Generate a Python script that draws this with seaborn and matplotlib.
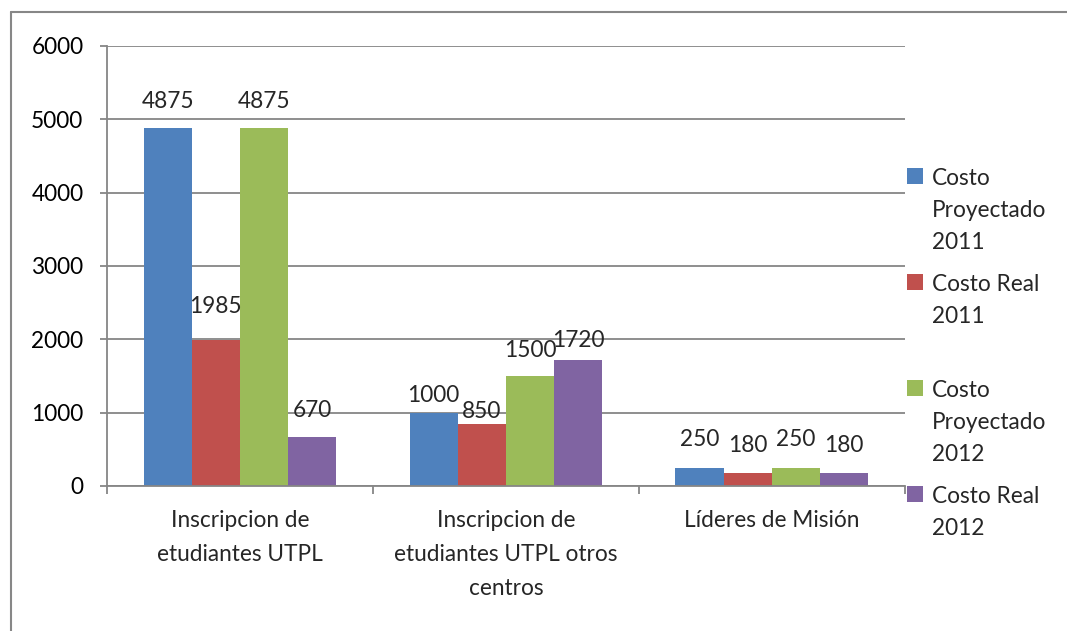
import matplotlib
matplotlib.use("Agg")
import matplotlib.pyplot as plt
from matplotlib.lines import Line2D
from matplotlib.patches import Patch
import seaborn as sns
import pandas as pd

# ---- data ----
categories = [
    "Inscripcion de\netudiantes UTPL",
    "Inscripcion de\netudiantes UTPL otros\ncentros",
    "Líderes de Misión",
]
series = ["Costo Proyectado 2011", "Costo Real 2011",
          "Costo Proyectado 2012", "Costo Real 2012"]
legend_labels = ["Costo\nProyectado\n2011", "Costo Real\n2011\n ",
                 "Costo\nProyectado\n2012", "Costo Real\n2012\n "]
proyectado_2011 = [4875, 1000, 250]
real_2011 = [1985, 850, 180]
proyectado_2012 = [4875, 1500, 250]
real_2012 = [670, 1720, 180]
values = [proyectado_2011, real_2011, proyectado_2012, real_2012]
yticks = [0, 1000, 2000, 3000, 4000, 5000, 6000]

colors = ["#4F81BD", "#C0504D", "#9BBB59", "#8064A2"]
# vertical label offsets (pixels above each bar top), per series
label_lift = [[27, 17, 28], [34, 12, 27], [27, 25, 28], [26, 19, 27]]

df = pd.DataFrame({
    "categoria": [c for s in series for c in categories],
    "serie": [s for s in series for _ in categories],
    "valor": [v for vals in values for v in vals],
})

FS = 16.3

sns.set_theme(style="white")
plt.rcParams["font.family"] = ["Lato", "DejaVu Sans"]
plt.rcParams["font.size"] = FS

fig = plt.figure(figsize=(10.67, 6.31), dpi=100)
ax = fig.add_axes([0.1003, 0.2298, 0.848 - 0.1003, 0.9271 - 0.2298])

sns.barplot(data=df, x="categoria", y="valor", hue="serie",
            palette=colors, width=0.725, dodge=True, ax=ax,
            saturation=1, legend=False, edgecolor="none", linewidth=0)

grid_color = "#868686"
ax.set_ylim(0, 6000)
ax.set_xlim(-0.5, 2.5)
ax.set_yticks(yticks)
ax.set_yticklabels([str(t) for t in yticks], fontsize=FS, color="black")
ax.yaxis.grid(True, color=grid_color, linewidth=1.3)
ax.set_axisbelow(True)
ax.set_xlabel("")
ax.set_ylabel("")

for side in ["top", "right"]:
    ax.spines[side].set_visible(False)
for side in ["left", "bottom"]:
    ax.spines[side].set_color(grid_color)
    ax.spines[side].set_linewidth(1.3)

ax.tick_params(axis="y", which="major", length=5, width=1.3,
               color=grid_color, pad=12, left=True)
ax.set_xticks(range(len(categories)))
ax.set_xticklabels(categories, fontsize=FS, linespacing=1.78)
ax.set_xticks([-0.5, 0.5, 1.5, 2.5], minor=True)
ax.tick_params(axis="x", which="major", length=0, pad=17)
ax.tick_params(axis="x", which="minor", length=6, width=1.3,
               color=grid_color, bottom=True)

# value labels above each bar
for i, container in enumerate(ax.containers):
    for j, bar in enumerate(container):
        h = bar.get_height()
        ax.annotate(f"{values[i][j]:.0f}",
                    xy=(bar.get_x() + bar.get_width() / 2, h),
                    xytext=(0, label_lift[i][j]), textcoords="offset pixels",
                    ha="center", va="center", fontsize=FS)

# legend on the right, squares aligned with the first text line
handles = [Patch(facecolor=c, edgecolor="none") for c in colors]
leg = fig.legend(handles, legend_labels, loc="upper left",
                 bbox_to_anchor=(0.842, 0.748), frameon=False,
                 fontsize=FS, handlelength=0.7, handleheight=0.7,
                 handletextpad=0.4, labelspacing=0.92, borderaxespad=0)
for txt in leg.get_texts():
    txt.set_linespacing(1.65)
for column in leg._legend_handle_box.get_children():
    for item in column.get_children():
        item.align = "top"

# chart area border (open to the right and bottom)
border = "#878787"
fig.add_artist(Line2D([11 / 1067, 1.0], [1 - 12 / 631, 1 - 12 / 631],
                      transform=fig.transFigure, color=border, linewidth=1.5))
fig.add_artist(Line2D([11 / 1067, 11 / 1067], [0.0, 1 - 12 / 631],
                      transform=fig.transFigure, color=border, linewidth=1.5))

fig.savefig("out.png", dpi=100)
